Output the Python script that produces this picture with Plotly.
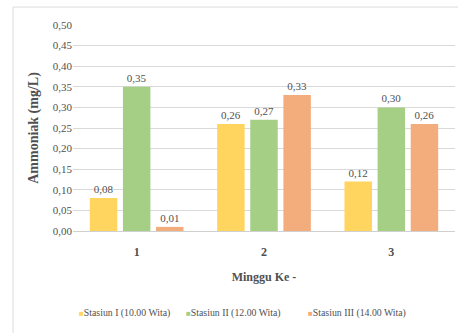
import plotly.graph_objects as go

categories = ["1", "2", "3"]
series_names = ["Stasiun I (10.00 Wita)", "Stasiun II (12.00 Wita)", "Stasiun III (14.00 Wita)"]
stasiun1 = [0.08, 0.26, 0.12]
stasiun2 = [0.35, 0.27, 0.30]
stasiun3 = [0.01, 0.33, 0.26]
colors = ["#FFD55F", "#A6CF86", "#F3AD7C"]

font_family = "Times New Roman"
text_color = "#505050"

fig = go.Figure()
for name, vals, col in zip(series_names, [stasiun1, stasiun2, stasiun3], colors):
    fig.add_trace(go.Bar(
        x=categories, y=vals, name=name, marker=dict(color=col, line=dict(width=0)),
        text=[f"{v:.2f}".replace(".", ",") for v in vals],
        textposition="outside", cliponaxis=False, showlegend=False,
        textfont=dict(family=font_family, size=11, color=text_color),
    ))

# compact legend (small square swatches close to the text, as in the reference)
legend_x = [0.010, 0.291, 0.610]
for name, col, lx in zip(series_names, colors, legend_x):
    fig.add_annotation(
        x=lx, y=-0.398, xref="paper", yref="paper", xanchor="left", yanchor="middle",
        showarrow=False,
        text=f"<span style='color:{col};font-size:8px'>■</span>{name}",
        font=dict(family=font_family, size=9.8, color=text_color),
    )

fig.update_layout(
    width=458, height=333,
    margin=dict(l=73, r=3, t=25, b=102, autoexpand=False),
    paper_bgcolor="white", plot_bgcolor="white",
    barmode="group", bargap=0.22, bargroupgap=0.17,
    font=dict(family=font_family, color=text_color),
    showlegend=False,
    xaxis=dict(
        title=dict(text="<b>Minggu Ke -</b>", font=dict(family=font_family, size=12, color=text_color), standoff=14),
        tickfont=dict(family=font_family, size=12, color=text_color),
        tickprefix="<b>", ticksuffix="</b>", ticklabelstandoff=10,
        showline=True, linecolor="#D0D0D0", linewidth=1, ticks="", automargin=False,
    ),
    yaxis=dict(
        title=dict(text="<b>Ammoniak (mg/L)</b>", font=dict(family=font_family, size=14, color=text_color), standoff=10),
        range=[0, 0.5], dtick=0.05, tickformat=".2f",
        tickfont=dict(family=font_family, size=11, color=text_color),
        showgrid=True, gridcolor="#D9D9D9", gridwidth=1, zeroline=False, automargin=False,
    ),
    separators=", ",
    shapes=[dict(type="rect", xref="paper", yref="paper", x0=-0.157, x1=1.05, y0=-0.55, y1=1.087,
                 line=dict(color="#DDDDDD", width=1), fillcolor="rgba(0,0,0,0)", layer="below")],
)

fig.write_html("out.html", config={"displayModeBar": False},
               post_script="document.body.style.margin='0';")
